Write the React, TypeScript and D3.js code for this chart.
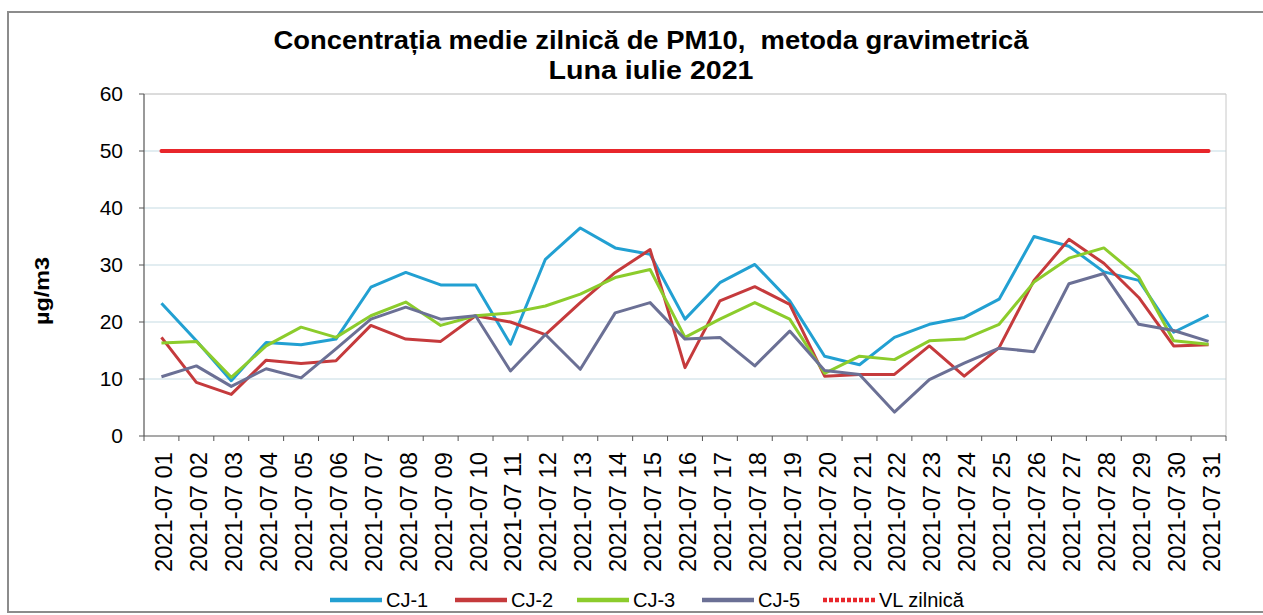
import * as d3 from "d3";

const days = [
  "2021-07 01", "2021-07 02", "2021-07 03", "2021-07 04", "2021-07 05", "2021-07 06",
  "2021-07 07", "2021-07 08", "2021-07 09", "2021-07 10", "2021-07 11", "2021-07 12",
  "2021-07 13", "2021-07 14", "2021-07 15", "2021-07 16", "2021-07 17", "2021-07 18",
  "2021-07 19", "2021-07 20", "2021-07 21", "2021-07 22", "2021-07 23", "2021-07 24",
  "2021-07 25", "2021-07 26", "2021-07 27", "2021-07 28", "2021-07 29", "2021-07 30",
  "2021-07 31",
];

const cj1 = [23.3, 16.7, 9.7, 16.4, 16.0, 17.0, 26.1, 28.7, 26.5, 26.5, 16.1, 31.0, 36.5, 33.0, 31.9, 20.5, 26.9, 30.1, 23.7, 14.0, 12.5, 17.3, 19.6, 20.8, 24.0, 35.0, 33.3, 28.8, 27.3, 18.2, 21.2];
const cj2 = [17.3, 9.4, 7.3, 13.3, 12.7, 13.2, 19.4, 17.0, 16.6, 21.1, 20.0, 17.8, 23.4, 28.7, 32.7, 12.0, 23.7, 26.2, 23.1, 10.5, 10.8, 10.8, 15.8, 10.5, 15.5, 27.3, 34.5, 30.3, 24.3, 15.8, 16.0];
const cj3 = [16.3, 16.6, 10.3, 15.8, 19.1, 17.3, 21.1, 23.5, 19.4, 21.1, 21.6, 22.8, 24.9, 27.8, 29.2, 17.3, 20.5, 23.4, 20.5, 11.0, 14.0, 13.4, 16.7, 17.0, 19.6, 27.0, 31.2, 33.0, 27.9, 16.7, 16.1];
const cj5 = [10.4, 12.3, 8.7, 11.8, 10.2, 15.3, 20.5, 22.6, 20.5, 21.1, 11.4, 17.8, 11.7, 21.6, 23.4, 17.0, 17.3, 12.3, 18.4, 11.5, 10.8, 4.2, 9.9, 12.8, 15.4, 14.8, 26.7, 28.5, 19.6, 18.5, 16.6];
const vlZilnica = [50, 50, 50, 50, 50, 50, 50, 50, 50, 50, 50, 50, 50, 50, 50, 50, 50, 50, 50, 50, 50, 50, 50, 50, 50, 50, 50, 50, 50, 50, 50];

const yTicks = [0, 10, 20, 30, 40, 50, 60];

const series = [
  { name: "CJ-1", values: cj1, color: "#22a0d2", width: 3 },
  { name: "CJ-2", values: cj2, color: "#c53a3c", width: 3 },
  { name: "CJ-3", values: cj3, color: "#8ccc2c", width: 3 },
  { name: "CJ-5", values: cj5, color: "#6b7095", width: 3 },
  { name: "VL zilnică", values: vlZilnica, color: "#e8262b", width: 4 },
];

const FONT = "'Liberation Sans', Arial, sans-serif";

export default function App() {
  const width = 1263;
  const height = 615;
  const margin = { top: 94, right: 37, bottom: 179, left: 144 };

  const x = d3
    .scaleBand<string>()
    .domain(days)
    .range([margin.left, width - margin.right]);
  const y = d3.scaleLinear().domain([0, 60]).range([height - margin.bottom, margin.top]);

  const cx = (d: string) => (x(d) ?? 0) + x.bandwidth() / 2;

  const line = (vals: number[]) =>
    d3
      .line<number>()
      .x((_, i) => cx(days[i]))
      .y((v) => y(v))(vals) ?? "";

  const plotRight = width - margin.right;
  const plotBottom = y(0);

  // legend starts (line start x); line is 52px, text follows
  const legendX = [330, 455, 577, 702, 823];

  return (
    <svg
      width={width}
      height={height}
      style={{ position: "absolute", left: 0, top: 0, background: "#fff" }}
      fontFamily={FONT}
    >
      {/* chart frame */}
      <rect x={8} y={12} width={1300} height={600} fill="none" stroke="#8c8c8c" strokeWidth={2} />

      {/* title */}
      <text x={651} y={49} textAnchor="middle" fontSize={25} fontWeight="bold" textLength={755} lengthAdjust="spacingAndGlyphs">
        {"Concentrația medie zilnică de PM10,\u00a0 metoda gravimetrică"}
      </text>
      <text x={651} y={79} textAnchor="middle" fontSize={25} fontWeight="bold" textLength={205} lengthAdjust="spacingAndGlyphs">
        Luna iulie 2021
      </text>

      {/* gridlines */}
      {yTicks.slice(1).map((t) => (
        <line key={t} x1={margin.left} x2={plotRight} y1={y(t)} y2={y(t)} stroke={t === 60 ? "#b8b8b8" : "#c5dbe3"} strokeWidth={1} />
      ))}
      <line x1={plotRight} x2={plotRight} y1={y(60)} y2={plotBottom} stroke="#c8c8c8" />

      {/* y axis */}
      <line x1={margin.left} x2={margin.left} y1={y(60)} y2={plotBottom} stroke="#555" strokeWidth={1.2} />
      {yTicks.map((t) => (
        <g key={t}>
          <line x1={margin.left - 5} x2={margin.left} y1={y(t)} y2={y(t)} stroke="#555" />
          <text x={margin.left - 21} y={y(t) + 7} textAnchor="end" fontSize={21}>
            {t}
          </text>
        </g>
      ))}
      <text
        transform={`translate(49,291) rotate(-90)`}
        textAnchor="middle"
        fontSize={20}
        fontWeight="bold"
        textLength={68}
        lengthAdjust="spacingAndGlyphs"
      >
        µg/m3
      </text>

      {/* x axis */}
      <line x1={margin.left} x2={plotRight} y1={plotBottom} y2={plotBottom} stroke="#555" strokeWidth={1.2} />
      {days.map((d) => (
        <line key={"t" + d} x1={x(d) ?? 0} x2={x(d) ?? 0} y1={plotBottom} y2={plotBottom + 5} stroke="#555" />
      ))}
      <line x1={plotRight} x2={plotRight} y1={plotBottom} y2={plotBottom + 5} stroke="#555" />
      {days.map((d) => (
        <text
          key={"l" + d}
          transform={`translate(${cx(d) + 11},${plotBottom + 16}) rotate(-90)`}
          textAnchor="end"
          fontSize={23}
          textLength={120}
          lengthAdjust="spacingAndGlyphs"
        >
          {d}
        </text>
      ))}

      {/* series */}
      {series.map((s) => (
        <path
          key={s.name}
          d={line(s.values)}
          fill="none"
          stroke={s.color}
          strokeWidth={s.width}
          strokeLinejoin="round"
          strokeLinecap={s.name === "VL zilnică" ? "round" : "butt"}
        />
      ))}

      {/* legend */}
      {series.map((s, i) => (
        <g key={"lg" + s.name}>
          <line
            x1={legendX[i]}
            x2={legendX[i] + 52}
            y1={600}
            y2={600}
            stroke={s.color}
            strokeWidth={4.5}
            strokeDasharray={s.name === "VL zilnică" ? "4,2" : undefined}
          />
          <text x={legendX[i] + 56} y={607} fontSize={20}>
            {s.name}
          </text>
        </g>
      ))}
    </svg>
  );
}
